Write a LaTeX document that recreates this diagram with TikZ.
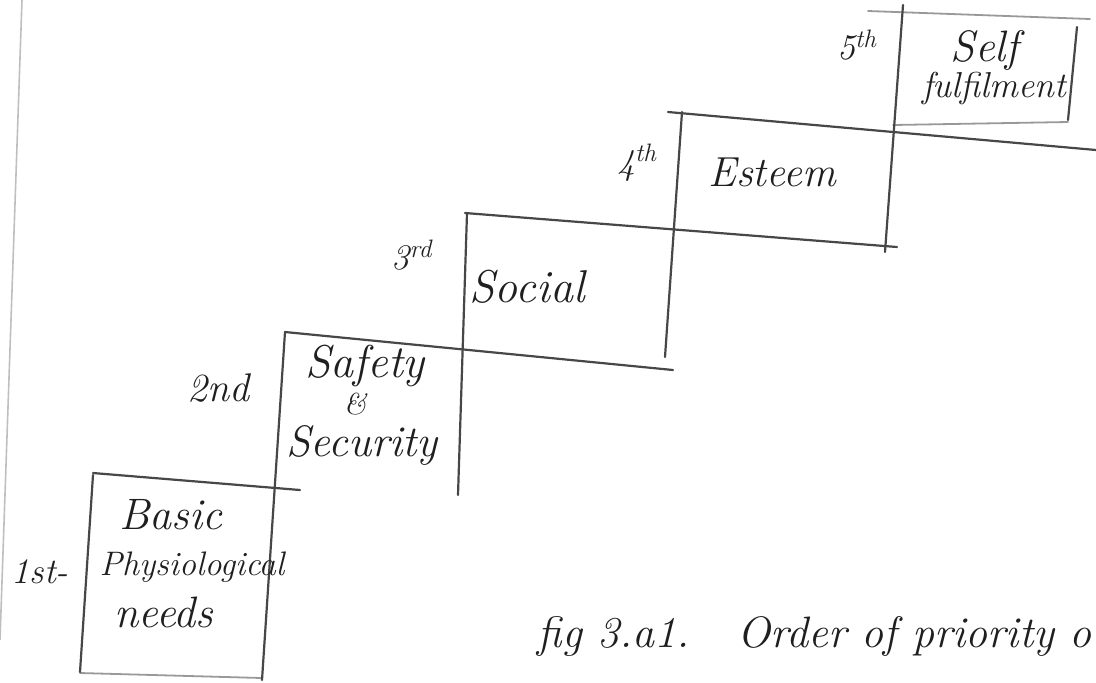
\documentclass[tikz,border=0pt]{standalone}
\begin{document}
\begin{tikzpicture}[x=0.5pt,y=-0.5pt,
  ln/.style={line width=1.1pt, draw=black!72, line cap=round},
  fl/.style={line width=0.9pt, draw=black!40, line cap=round},
  edge/.style={line width=0.8pt, draw=black!25},
  hw/.style={font=\itshape\fontsize{#1}{#1}\selectfont, text=black!88, inner sep=0pt},
  hw/.default=21]
\useasboundingbox (0,0) rectangle (1096,682);
\clip (0,0) rectangle (1096,682);
% page edge of the scan
\coordinate (P1) at (22,0); \coordinate (P2) at (0,640);
\draw[edge] (P1) -- (P2);
% coordinates
\coordinate (A1) at (93,473);  \coordinate (A2) at (300,490);
\coordinate (B1) at (285,332); \coordinate (B2) at (673,370);
\coordinate (C1) at (465,213); \coordinate (C2) at (897,247);
\coordinate (D1) at (668,112); \coordinate (D2) at (1096,150);
\coordinate (E1) at (893,125); \coordinate (E2) at (1068,122);
\coordinate (T1) at (868,11);  \coordinate (T2) at (1090,19);
\coordinate (F1) at (80,673);  \coordinate (F2) at (262,678);
\coordinate (V1a) at (93,475); \coordinate (V1b) at (80,672);
\coordinate (V2a) at (285,332); \coordinate (V2b) at (262,680);
\coordinate (V3a) at (467,213); \coordinate (V3b) at (458,495);
\coordinate (V4a) at (682,112); \coordinate (V4b) at (665,357);
\coordinate (V5a) at (903,5);   \coordinate (V5b) at (885,252);
\coordinate (V6a) at (1077,27); \coordinate (V6b) at (1068,120);
% horizontal lines
\draw[ln] (A1) -- (A2);
\draw[ln] (B1) -- (B2);
\draw[ln] (C1) -- (C2);
\draw[ln] (D1) -- (D2);
\draw[fl] (E1) -- (E2);
\draw[fl] (T1) -- (T2);
\draw[fl] (F1) -- (F2);
% vertical lines
\draw[ln] (V1a) -- (V1b);
\draw[ln] (V2a) -- (V2b);
\draw[ln] (V3a) -- (V3b);
\draw[ln] (V4a) -- (V4b);
\draw[ln] (V5a) -- (V5b);
\draw[ln] (V6a) -- (V6b);
% step labels
\node[hw=22] (basic) at (171,515) {Basic};
\node[hw=17] (phys) at (192,567) {Physiological};
\node[hw=22] (needs) at (164,612) {needs};
\node[hw=23] (safety) at (365,366) {Safety};
\node[hw=15] (amp) at (355,404) {\&};
\node[hw=22] (security) at (362,445) {Security};
\node[hw=23] (social) at (527,287) {Social};
\node[hw=21] (esteem) at (772,172) {Esteem};
\node[hw=22] (self) at (985,50) {Self};
\node[hw=18] (fulfil) at (994,88) {fulfilment};
% order labels
\node[hw=18] (o1) at (40,572) {1st-};
\node[hw=20] (o2) at (218,388) {2nd};
\node[hw=18] (o3) at (412,255) {3\textsuperscript{rd}};
\node[hw=18] (o4) at (637,163) {4\textsuperscript{th}};
\node[hw=18] (o5) at (857,45) {5\textsuperscript{th}};
% caption
\node[hw=22, anchor=base east] (cap1) at (690,647) {fig 3.a1.};
\node[hw=22, anchor=base west] (cap2) at (737,647) {Order of priority o};
\end{tikzpicture}
\end{document}
